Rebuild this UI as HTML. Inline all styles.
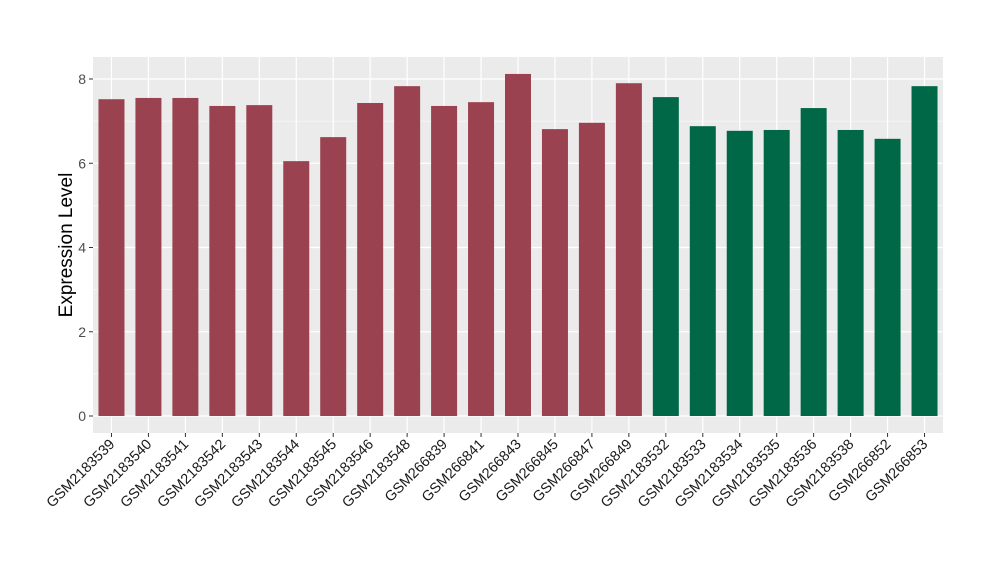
<!DOCTYPE html>
<html><head><meta charset="utf-8"><style>
body{margin:0;background:#fff;}
svg{font-family:"Liberation Sans",Arial,sans-serif;}
</style></head><body>
<svg id="chart" width="1000" height="580"></svg>
<script>
const categories=["GSM2183539","GSM2183540","GSM2183541","GSM2183542","GSM2183543","GSM2183544","GSM2183545","GSM2183546","GSM2183548","GSM266839","GSM266841","GSM266843","GSM266845","GSM266847","GSM266849","GSM2183532","GSM2183533","GSM2183534","GSM2183535","GSM2183536","GSM2183538","GSM266852","GSM266853"];
const values=[7.52,7.55,7.55,7.36,7.38,6.05,6.62,7.43,7.83,7.36,7.45,8.12,6.81,6.96,7.90,7.57,6.88,6.77,6.79,7.31,6.79,6.58,7.83];
const groups=[0,0,0,0,0,0,0,0,0,0,0,0,0,0,0,1,1,1,1,1,1,1,1];
const yTicks=[0,2,4,6,8];
const colors=["#9a4250","#006846"];
const NS="http://www.w3.org/2000/svg";
const svg=document.getElementById('chart');
const px0=93,px1=943,py0=57,py1=433;
const y0px=416,unit=42.125;
function yScale(v){return y0px-v*unit;}
const step=(px1-px0)/categories.length;
function xScale(i){return px0+step*(i+0.5);}
function mk(tag,attrs,parent){const e=document.createElementNS(NS,tag);for(const k in attrs)e.setAttribute(k,attrs[k]);(parent||svg).appendChild(e);return e;}
const panel=mk('rect',{x:px0,y:py0,width:px1-px0,height:py1-py0,fill:'#ebebeb'});


for(let i=0;i<yTicks.length-1;i++){const m=(yTicks[i]+yTicks[i+1])/2;
const g=mk('line',{x1:px0,x2:px1,y1:yScale(m),y2:yScale(m),stroke:'#fff','stroke-width':0.6});

}
yTicks.forEach(t=>{const y=yScale(t);
const g=mk('line',{x1:px0,x2:px1,y1:y,y2:y,stroke:'#fff','stroke-width':1.2});


const tk=mk('line',{x1:px0-4,x2:px0,y1:y,y2:y,stroke:'#333','stroke-width':1});


const tx=mk('text',{x:px0-7,y:y+5,'text-anchor':'end','font-size':14,fill:'#4d4d4d'});tx.textContent=t;

});
categories.forEach((c,i)=>{const x=xScale(i);
const g=mk('line',{x1:x,x2:x,y1:py0,y2:py1,stroke:'#fff','stroke-width':1.2});

});
categories.forEach((c,i)=>{const x=xScale(i),w=26;
const b=mk('rect',{x:x-w/2,y:yScale(values[i]),width:w,height:yScale(0)-yScale(values[i]),fill:colors[groups[i]]});


const tk=mk('line',{x1:x,x2:x,y1:py1,y2:py1+4,stroke:'#333','stroke-width':1});


const t=mk('text',{x:x+4,y:py1+12,'text-anchor':'end','font-size':14.5,fill:'#1a1a1a',transform:`rotate(-45 ${x+4} ${py1+12})`});t.textContent=c;

});
const yt=mk('text',{x:72,y:(py0+py1)/2,'text-anchor':'middle','font-size':19,fill:'#000',transform:`rotate(-90 72 ${(py0+py1)/2})`});yt.textContent='Expression Level';


</script>
</body></html>
